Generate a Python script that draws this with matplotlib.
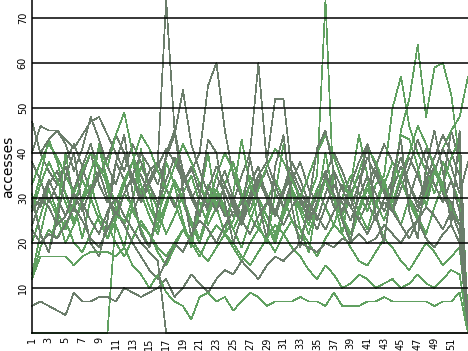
import numpy as np
import matplotlib
matplotlib.use("Agg")
import matplotlib.pyplot as plt

GRAY = "#6b7d6b"
GREEN = "#60a060"

# one list per line, x = 1..53
a = [30, 28, 33, 36, 31, 27, 35, 40, 33, 29, 38, 34, 27, 31, 36, 38, 74,
     45, 36, 30, 33, 28, 35, 31, 26, 29, 33, 37, 30, 27, 32, 35, 29, 26, 31, 34, 28,
     33, 30, 25, 29, 36, 32, 28, 34, 30, 27, 33, 37, 31, 29, 24, 2]
b = [47, 40, 36, 33, 38, 42, 37, 31, 35, 39, 44, 40, 34, 29, 33, 37, 41, 38, 34, 36,
     40, 55, 60, 45, 35,
     30, 27, 33, 36, 31, 28, 34, 38, 32, 29, 35, 40, 36, 31, 27, 33, 37, 42, 38, 34,
     30, 36, 41, 37, 33, 45, 38, 3]
c = [24, 29, 34, 30, 26, 32, 37, 42, 36, 30, 27, 33, 38, 35, 31, 28, 34, 39, 36, 31,
     27, 33, 30, 26, 29, 35, 40, 60, 38, 52, 52, 35,
     30, 27, 32, 36, 30, 26, 31, 35, 29, 25, 30, 34, 39, 33, 28, 32, 37, 31, 27, 22, 1]
d = [13, 22, 30, 26, 20, 24, 29, 33, 27, 21, 25, 31, 28, 23, 19, 26, 32, 29, 24, 20,
     27, 33, 28, 22, 25, 30, 35, 29, 24, 21, 28, 32, 27, 30, 35, 74, 30,
     26, 31, 27, 23, 29, 34, 28, 24, 30, 26, 22, 28, 33, 27, 24, 2]
e = [28, 35, 43, 38, 31, 25, 29, 36, 41, 34, 28, 24, 30, 37, 33, 27, 22, 26, 31, 35,
     29, 24, 28, 33, 38, 31, 26, 23, 29, 34, 30, 25, 21, 27, 32, 28, 24, 30, 35, 31,
     27, 33, 35, 50, 57, 46, 40, 36, 31, 38, 34, 29, 4]
f = [20, 26, 32, 27, 23, 29, 34, 30, 25, 21, 27, 33, 38, 31, 26, 22, 28, 34, 29, 24,
     20, 26, 31, 27, 23, 19, 25, 30, 26, 22, 27, 32, 28, 24, 29, 34, 30, 26, 22, 28,
     33, 29, 25, 31, 45, 52, 64, 48, 59, 60, 53, 38, 2]
g = [31, 22, 18, 27, 40, 29, 21, 30, 42, 32, 24, 19, 29, 41, 31, 23, 38, 33, 25, 19,
     30, 40, 28, 22, 31, 43, 33, 24, 20, 31, 42, 32, 23, 18, 29, 40, 30, 22, 33, 44,
     35, 26, 21, 33, 44, 43, 37, 28, 36, 41, 45, 48, 57]
h = [38, 34, 29, 33, 37, 31, 27, 32, 36, 30, 26, 31, 35, 40, 37, 33, 39, 44, 54, 42,
     36, 31, 27, 33, 29, 25, 30, 35, 31, 27, 32, 38, 34, 29, 25, 31, 36, 32, 28, 33,
     39, 35, 31, 27, 32, 37, 43, 38, 33, 29, 34, 27, 3]
i_ = [47, 40, 43, 45, 42, 36, 41, 48, 43, 37, 33, 39, 35, 30, 34, 38, 32, 28, 33, 37,
      31, 27, 32, 36, 30, 26, 31, 35, 38, 33, 28, 34, 30, 25, 29, 35, 31, 27, 33, 38,
      42, 37, 33, 29, 34, 39, 35, 30, 36, 41, 37, 31, 38]
j = [40, 46, 45, 45, 43, 41, 44, 47, 48, 44, 40, 36, 42, 38, 33, 29, 34, 39, 35, 30,
     26, 32, 37, 33, 28, 24, 29, 34, 30, 26, 31, 36, 32, 27, 23, 28, 33, 29, 25, 30,
     35, 31, 27, 32, 37, 33, 29, 34, 39, 44, 40, 35, 1]
k = [27, 33, 38, 34, 29, 24, 30, 36, 41, 37, 44, 49, 40, 33, 28, 24, 29, 34, 30, 25,
     21, 27, 32, 28, 23, 27, 33, 29, 24, 20, 26, 31, 27, 22, 28, 34, 30, 25, 21, 27,
     32, 28, 33, 38, 34, 29, 25, 31, 36, 32, 28, 24, 0]
l_ = [12, 19, 23, 21, 25, 20, 18, 22, 26, 24, 20, 17, 21, 25, 22, 18, 15, 19, 23, 20,
      17, 21, 24, 22, 19, 16, 20, 23, 21, 18, 22, 25, 23, 20, 17, 21, 24, 22, 19, 16,
      15, 18, 21, 19, 16, 14, 17, 20, 18, 15, 17, 19, 1]
m = [23, 20, 22, 21, 24, 28, 25, 21, 19, 23, 27, 24, 20, 17, 14, 12, 16, 20, 18, 22,
     25, 23, 20, 24, 27, 25, 22, 26, 29, 27, 24, 28, 31, 29, 26, 23, 27, 30, 28, 25,
     22, 26, 29, 27, 24, 21, 25, 28, 26, 23, 27, 24, 2]
n = [33, 38, 42, 39, 35, 31, 36, 40, 37, 33, 29, 34, 38, 44, 41, 36, 32, 37, 42, 38,
     33, 29, 35, 40, 36, 31, 27, 32, 37, 41, 38, 34, 30, 35, 40, 44, 39, 34, 30, 36,
     41, 38, 33, 29, 35, 40, 46, 42, 37, 33, 39, 43, 2]
o = [30, 22, 18, 25, 35, 40, 28, 20, 17, 25, 38, 44, 31, 22, 19, 28, 40, 45, 32, 21,
     31, 43, 40, 29, 20, 26, 39, 29, 21, 37, 44, 28, 19, 29, 41, 45, 36, 25, 20, 33,
     42, 26, 20, 35, 43, 27, 21, 37, 45, 36, 24, 45, 0]
zero_start = [0] * 10 + [26, 25, 27, 24, 22, 19, 17, 20, 23, 21, 18, 16, 19, 22, 20,
              17, 15, 18, 21, 24, 22, 19, 17, 14, 12, 15, 13, 10, 11, 13, 12, 10, 11,
              12, 10, 11, 13, 11, 10, 12, 14, 13, 1]
low = [6, 7, 6, 5, 4, 9, 7, 7, 8, 8, 7, 10, 9, 8, 9, 10, 12, 8, 10, 13, 11, 9, 12, 14,
       13, 16, 14, 12, 15, 17, 16, 18, 20, 19, 18, 20, 19, 21, 20, 22, 20, 21, 24, 22,
       20, 23, 25, 21, 19, 22, 24, 20, 1]
flat = [12, 17, 17, 17, 17, 15, 17, 18, 18, 18, 17, 19, 15, 13, 10, 13, 9,
        7, 6, 3, 8, 9, 7, 8, 5, 7, 9, 8, 6, 7, 7, 7, 8, 7, 7, 6, 9, 6, 6, 6, 7, 7, 8,
        7, 7, 7, 7, 7, 6, 7, 7, 9, 0]
drop = [27, 30, 28, 24, 26, 31, 29, 25, 22, 27, 30, 26, 23, 20, 18, 16] + [0] * 37

series = [(a, GRAY), (b, GRAY), (c, GRAY), (d, GREEN), (e, GREEN), (f, GREEN),
          (g, GREEN), (h, GRAY), (i_, GRAY), (j, GRAY), (k, GREEN), (l_, GREEN),
          (m, GRAY), (n, GREEN), (o, GRAY), (zero_start, GREEN), (low, GRAY),
          (flat, GREEN), (drop, GRAY)]

fig = plt.figure(figsize=(4.68, 3.51), dpi=100)
ax = fig.add_axes([32 / 468, 18 / 351, 436 / 468, 333 / 351])

for vals, col in series:
    xs = np.arange(1, len(vals) + 1)
    ax.plot(xs, vals, color=col, lw=0.5, antialiased=False, clip_on=False, zorder=2)

ax.set_xlim(1, 53)
ax.set_ylim(0, 74)
ax.set_yticks(range(10, 71, 10))
ax.set_xticks(range(1, 52, 2))
ax.set_axisbelow(False)
ax.yaxis.grid(True, color="black", lw=1.1)
ax.tick_params(axis="both", length=0, labelsize=7, pad=3)
ax.tick_params(axis="y", labelrotation=90)
ax.tick_params(axis="x", labelrotation=90)
for lab in ax.get_yticklabels():
    lab.set_va("center")
for s in ("top", "right"):
    ax.spines[s].set_visible(False)
for s in ("left", "bottom"):
    ax.spines[s].set_color("black")
    ax.spines[s].set_linewidth(1.1)
ax.set_ylabel("accesses", fontsize=10, labelpad=2)

fig.savefig("out.png", dpi=100)
